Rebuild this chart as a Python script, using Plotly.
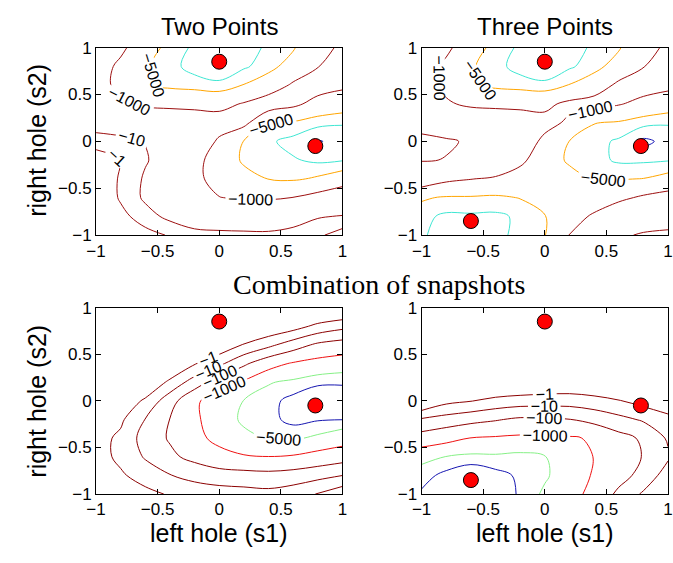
import numpy as np
import plotly.graph_objects as go

# grid of the two control variables
s1 = [-1.0, -0.8, -0.6, -0.4, -0.2, 0.0, 0.2, 0.4, 0.6, 0.8, 1.0]
s2_rows = [1.0, 0.8, 0.6, 0.4, 0.2, 0.0, -0.2, -0.4, -0.6, -0.8, -1.0]  # row order of the tables below

# objective values (rows: s2 = 1 ... -1, cols: s1 = -1 ... 1)
two_points_obj = [
    [-398, -708, -2820, -7080, -11200, -12600, -11200, -9550, -5620, -1580, -794],
    [-447, -1410, -4470, -7940, -13200, -14100, -11200, -7080, -3020, -1050, -501],
    [-501, -1580, -4570, -6310, -7080, -8910, -4790, -2570, -794, -501, -708],
    [-251, -794, -1410, -1580, -1700, -1580, -891, -398, -708, -1700, -2750],
    [-39.8, -56.2, -200, -251, -316, -501, -631, -4790, -5620, -8710, -9550],
    [-3.02, -4.9, -10.7, -63.1, -316, -1260, -5250, -8910, -12600, -15500, -13200],
    [-0.251, -0.891, -7.94, -39.8, -631, -2000, -6030, -7940, -9330, -11500, -10500],
    [-0.1, -1.41, -14.1, -39.8, -631, -2000, -3160, -5130, -5750, -4370, -2820],
    [-0.079, -1.41, -15.8, -35.5, -158, -955, -1260, -1260, -977, -562, -229],
    [-0.063, -0.447, -3.63, -20, -31.6, -79.4, -126, -158, -50.1, -12.6, -8.51],
    [-0.05, -0.1, -0.398, -1.26, -5.62, -5.01, -5.01, -5.01, -3.16, -1.58, -0.316],
]
three_points_obj = [
    [-398, -708, -2820, -7080, -11200, -12600, -11200, -9550, -5620, -1580, -794],
    [-447, -1410, -4470, -7940, -13200, -14100, -11200, -7080, -3020, -1050, -501],
    [-501, -1580, -4570, -6310, -7080, -8910, -4790, -2570, -708, -501, -631],
    [-251, -794, -1410, -1580, -1700, -1410, -708, -501, -891, -1580, -2750],
    [-39.8, -63.1, -200, -251, -316, -631, -1260, -4790, -5620, -8710, -9550],
    [-3.98, -7.08, -14.1, -50.1, -398, -1410, -5130, -7940, -11200, -16600, -13200],
    [-7.94, -11.2, -39.8, -200, -708, -2510, -6030, -7940, -11200, -11200, -10500],
    [-316, -708, -955, -1260, -2000, -2820, -3160, -5250, -5250, -4900, -3550],
    [-4370, -5620, -5620, -6030, -4790, -3160, -2240, -2510, -1410, -794, -501],
    [-8320, -11500, -11200, -11500, -8910, -5250, -2000, -794, -316, -158, -100],
    [-9330, -12600, -14100, -12600, -7940, -5250, -955, -316, -20, -6.31, -3.98],
]
combo_two_obj = [
    [-0.03, -0.03, -0.03, -0.03, -0.03, -0.03, -0.03, -0.03, -0.03, -0.03, -0.05],
    [-0.03, -0.03, -0.03, -0.03, -0.03, -0.03, -0.04, -0.126, -0.355, -1.86, -5.01],
    [-0.03, -0.03, -0.03, -0.03, -0.05, -0.158, -1.2, -5.62, -33.9, -155, -295],
    [-0.03, -0.03, -0.03, -0.05, -0.832, -5.89, -66.1, -468, -1230, -2140, -2820],
    [-0.03, -0.03, -0.079, -1.78, -29.5, -316, -1320, -4570, -6310, -8710, -9120],
    [-0.03, -0.126, -1.58, -39.8, -708, -2820, -5130, -7940, -12600, -17800, -15800],
    [-0.063, -0.661, -10.7, -105, -708, -2820, -6030, -7940, -12600, -10700, -10200],
    [-0.427, -1.58, -26.9, -126, -562, -1780, -3800, -5370, -5750, -4170, -2570],
    [-0.355, -1.78, -12.6, -61.7, -200, -501, -851, -977, -851, -513, -295],
    [-0.1, -0.708, -2.88, -9.12, -20.9, -38.9, -44.7, -52.5, -38.9, -21.4, -10.2],
    [-0.03, -0.1, -0.501, -1.26, -2.51, -3.16, -3.98, -5.01, -2.82, -0.891, -0.2],
]
combo_three_obj = [
    [-0.03, -0.03, -0.03, -0.03, -0.03, -0.03, -0.03, -0.03, -0.03, -0.03, -0.03],
    [-0.03, -0.03, -0.03, -0.03, -0.03, -0.03, -0.03, -0.03, -0.03, -0.03, -0.03],
    [-0.03, -0.03, -0.03, -0.03, -0.03, -0.03, -0.03, -0.03, -0.03, -0.03, -0.03],
    [-0.03, -0.03, -0.03, -0.03, -0.04, -0.04, -0.04, -0.03, -0.03, -0.03, -0.03],
    [-0.03, -0.03, -0.03, -0.04, -0.063, -0.1, -0.126, -0.1, -0.063, -0.04, -0.03],
    [-0.063, -0.501, -0.891, -2.14, -3.16, -3.55, -3.63, -2.29, -1.15, -0.398, -0.251],
    [-13.3, -26.9, -51.3, -83.2, -145, -129, -105, -51.3, -19.5, -7.5, -1.78],
    [-288, -562, -1050, -1260, -1480, -1350, -1260, -794, -224, -70.8, -7.5],
    [-3800, -5130, -6610, -6170, -7080, -5250, -2510, -955, -355, -89.1, -14.1],
    [-7410, -12600, -17800, -12600, -8910, -5750, -2820, -832, -224, -50.1, -3.16],
    [-11200, -15800, -20000, -12600, -9550, -4170, -2240, -513, -63.1, -7.08, -2.0],
]

# snapshot locations (red dots)
two_pts_s1 = [0.0, 0.78]
two_pts_s2 = [0.85, -0.05]
three_pts_s1 = [0.0, 0.78, -0.6]
three_pts_s2 = [0.85, -0.05, -0.85]

# contour levels
top_levels = [-15000, -10000, -5000, -1000, -10, -1]
top_labeled = [False, True, True, True, True, True]
bottom_levels = [-10000, -5000, -1000, -100, -10, -1]
bottom_labeled = [True, True, True, True, True, True]

tick_vals = [-1, -0.5, 0, 0.5, 1]

# styles
top_colors = ["#1a1ab8", "#3ee6d2", "#ffa500", "#9c0f0f", "#9c0f0f", "#9c0f0f"]
bottom_colors = ["#1414b0", "#86f086", "#ee1111", "#8b0000", "#8b0000", "#8b0000"]
SANS = "Liberation Sans, Arial, Helvetica, sans-serif"
SERIF = "Liberation Serif, Times New Roman, serif"

fig = go.Figure()


def add_panel(obj_rows, levels, colors, labeled, pts_x, pts_y, xa, ya):
    z = np.array(obj_rows[::-1], dtype=float)
    y = s2_rows[::-1]
    logmag = np.log10(-z)
    for lvl, col, lab in zip(levels, colors, labeled):
        g = np.log10(-lvl)
        # monotone re-expression of the field so that the line sits where
        # log10|obj| crosses log10|level| and the label reads the level value
        zt = lvl * (1.0 + (logmag - g))
        fig.add_trace(go.Contour(
            x=s1, y=y, z=zt,
            autocontour=False,
            contours=dict(start=lvl, end=lvl, size=1, coloring="none",
                          showlabels=lab, labelformat=".0f",
                          labelfont=dict(family=SANS, size=16, color="black")),
            line=dict(color=col, width=1),
            showscale=False, hoverinfo="skip",
            xaxis=xa, yaxis=ya,
        ))
    fig.add_trace(go.Scatter(
        x=pts_x, y=pts_y, mode="markers",
        marker=dict(size=15, color="#ff0000", line=dict(color="black", width=1)),
        hoverinfo="skip", showlegend=False, xaxis=xa, yaxis=ya,
    ))


add_panel(two_points_obj, top_levels, top_colors, top_labeled, two_pts_s1, two_pts_s2, "x", "y")
add_panel(three_points_obj, top_levels, top_colors, top_labeled, three_pts_s1, three_pts_s2, "x2", "y2")
add_panel(combo_two_obj, bottom_levels, bottom_colors, bottom_labeled, two_pts_s1, two_pts_s2, "x3", "y3")
add_panel(combo_three_obj, bottom_levels, bottom_colors, bottom_labeled, three_pts_s1, three_pts_s2, "x4", "y4")

W, H = 673, 563
xl = [88 / W, 340 / W]
xr = [421 / W, 1.0]
yt = [1 - 234 / H, 1 - 40 / H]
yb = [1 - 502 / H, 1 - 309 / H]

ax_common = dict(range=[-1, 1], tickvals=tick_vals, ticks="inside", ticklen=5,
                 tickcolor="black", showline=True, linecolor="black", linewidth=1,
                 mirror="ticks", showgrid=False, zeroline=False,
                 tickfont=dict(family=SANS, size=17, color="black"))

layout = dict(
    width=W, height=H, margin=dict(l=0, r=0, t=0, b=0),
    paper_bgcolor="white", plot_bgcolor="white", showlegend=False,
    xaxis=dict(domain=xl, anchor="y", **ax_common),
    yaxis=dict(domain=yt, anchor="x", **ax_common),
    xaxis2=dict(domain=xr, anchor="y2", **ax_common),
    yaxis2=dict(domain=yt, anchor="x2", **ax_common),
    xaxis3=dict(domain=xl, anchor="y3", **ax_common),
    yaxis3=dict(domain=yb, anchor="x3", **ax_common),
    xaxis4=dict(domain=xr, anchor="y4", **ax_common),
    yaxis4=dict(domain=yb, anchor="x4", **ax_common),
)
fig.update_layout(**layout)

ann = [
    dict(text="Two Points", x=214 / W, y=1 - 18 / H, font=dict(family=SANS, size=24)),
    dict(text="Three Points", x=547 / W, y=1 - 18 / H, font=dict(family=SANS, size=24)),
    dict(text="Combination of snapshots", x=377 / W, y=1 - 285 / H, font=dict(family=SERIF, size=28)),
    dict(text="right hole (s2)", x=28 / W, y=1 - 136 / H, textangle=-90, font=dict(family=SANS, size=25)),
    dict(text="right hole (s2)", x=28 / W, y=1 - 406 / H, textangle=-90, font=dict(family=SANS, size=25)),
    dict(text="left hole (s1)", x=214 / W, y=1 - 542 / H, font=dict(family=SANS, size=25)),
    dict(text="left hole (s1)", x=547 / W, y=1 - 542 / H, font=dict(family=SANS, size=25)),
]
for a in ann:
    a["font"]["color"] = "black"
    fig.add_annotation(xref="paper", yref="paper", xanchor="center", yanchor="middle",
                       showarrow=False, **a)

fig.write_html("out.html")
